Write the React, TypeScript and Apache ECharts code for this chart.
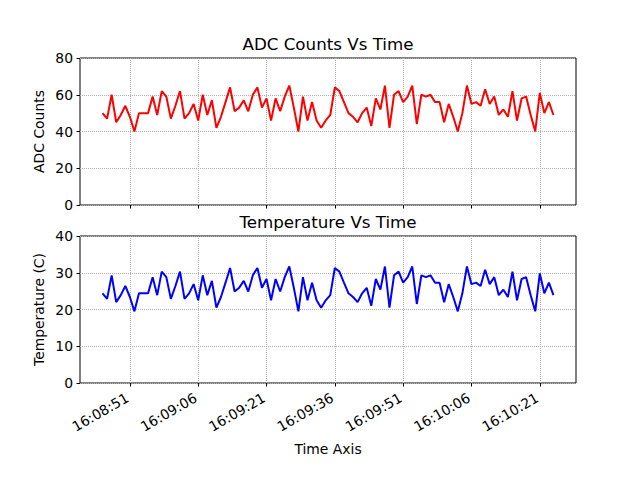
import React, { useEffect, useRef } from "react";
import * as echarts from "echarts";

const startTime = "16:08:45";
const samplePeriodSec = 1;

const adcCounts = [
  50, 47, 60, 45, 49, 54, 48, 40, 50, 50,
  50, 59, 49, 62, 59, 47, 54, 62, 47, 50,
  55, 46, 60, 49, 57, 42, 48, 56, 64, 51,
  53, 57, 51, 60, 64, 53, 58, 46, 58, 51,
  59, 65, 53, 40, 59, 46, 56, 46, 42, 46,
  49, 64, 62, 56, 50, 48, 45, 50, 53, 43,
  58, 52, 65, 42, 60, 62, 56, 59, 65, 44,
  60, 59, 60, 56, 56, 45, 55, 48, 40, 50,
  65, 55, 56, 54, 63, 55, 59, 49, 52, 48,
  62, 46, 58, 59, 49, 40, 61, 50, 56, 49,
];

const temperatureC = [
  24.4, 22.9, 29.3, 22.0, 23.9, 26.4, 23.4, 19.5, 24.4, 24.4,
  24.4, 28.8, 23.9, 30.3, 28.8, 22.9, 26.4, 30.3, 22.9, 24.4,
  26.9, 22.5, 29.3, 23.9, 27.8, 20.5, 23.4, 27.3, 31.3, 24.9,
  25.9, 27.8, 24.9, 29.3, 31.3, 25.9, 28.3, 22.5, 28.3, 24.9,
  28.8, 31.7, 25.9, 19.5, 28.8, 22.5, 27.3, 22.5, 20.5, 22.5,
  23.9, 31.3, 30.3, 27.3, 24.4, 23.4, 22.0, 24.4, 25.9, 21.0,
  28.3, 25.4, 31.7, 20.5, 29.3, 30.3, 27.3, 28.8, 31.7, 21.5,
  29.3, 28.8, 29.3, 27.3, 27.3, 22.0, 26.9, 23.4, 19.5, 24.4,
  31.7, 26.9, 27.3, 26.4, 30.8, 26.9, 28.8, 23.9, 25.4, 23.4,
  30.3, 22.5, 28.3, 28.8, 23.9, 19.5, 29.8, 24.4, 27.3, 23.9,
];

const xTickLabels = ["16:08:51", "16:09:06", "16:09:21", "16:09:36", "16:09:51", "16:10:06", "16:10:21"];
const adcAxis = { min: 0, max: 80, step: 20 };
const tempAxis = { min: 0, max: 40, step: 10 };

function toSec(s: string) {
  const [h, m, x] = s.split(":").map(Number);
  return h * 3600 + m * 60 + x;
}
function pad(n: number) {
  return (n < 10 ? "0" : "") + n;
}
function fmt(sec: number) {
  const s = Math.round(sec);
  return pad(Math.floor(s / 3600)) + ":" + pad(Math.floor((s % 3600) / 60)) + ":" + pad(s % 60);
}

const FONT = "DejaVu Sans";

export default function App() {
  const ref = useRef<HTMLDivElement>(null);
  useEffect(() => {
    document.body.style.margin = "0";
    if (!ref.current) return;
    const chart = echarts.init(ref.current, undefined, { renderer: "svg" });
    const t0 = toSec(startTime);
    const times = adcCounts.map((_, i) => t0 + i * samplePeriodSec);
    const tEnd = times[times.length - 1];
    const span = tEnd - t0;
    const xMin = t0 - 0.05 * span;
    const xMax = tEnd + 0.05 * span;
    const tickVals = xTickLabels.map(toSec);

    const L = 80, W = 496, H = 147;
    const gridStyle = { show: true, borderColor: "#000", borderWidth: 1, backgroundColor: "#fff" };
    const split = { show: true, lineStyle: { type: "dotted" as const, color: "#b0b0b0", width: 1 } };
    const tick = { show: true, length: 3.5, inside: false, lineStyle: { color: "#000", width: 1 } };
    const lbl = { color: "#000", fontFamily: FONT, fontSize: 13.9 };

    const xAxisBase = (gi: number, showLabels: boolean) => ({
      type: "value" as const,
      gridIndex: gi,
      min: xMin,
      max: xMax,
      axisLine: { show: false },
      axisTick: { ...tick, customValues: tickVals },
      splitLine: split,
      axisLabel: {
        show: showLabels,
        customValues: tickVals,
        formatter: (v: number) => fmt(v),
        rotate: 30,
        margin: 12,
        padding: [0, 3, 0, 0],
        ...lbl,
      },
    });
    const yAxisBase = (gi: number, a: { min: number; max: number; step: number }) => ({
      type: "value" as const,
      gridIndex: gi,
      min: a.min,
      max: a.max,
      interval: a.step,
      axisLine: { show: false },
      axisTick: tick,
      splitLine: split,
      axisLabel: { margin: 7, ...lbl },
    });

    chart.setOption({
      animation: false,
      backgroundColor: "#fff",
      grid: [
        { left: L, top: 58, width: W, height: H, ...gridStyle },
        { left: L, top: 236, width: W, height: H, ...gridStyle },
      ],
      xAxis: [xAxisBase(0, false), xAxisBase(1, true)],
      yAxis: [yAxisBase(0, adcAxis), yAxisBase(1, tempAxis)],
      series: [
        {
          type: "line",
          xAxisIndex: 0,
          yAxisIndex: 0,
          data: adcCounts.map((v, i) => [times[i], v]),
          showSymbol: false,
          symbol: "none",
          lineStyle: { color: "#ff0000", width: 2 },
          itemStyle: { color: "#ff0000" },
          z: 5,
        },
        {
          type: "line",
          xAxisIndex: 1,
          yAxisIndex: 1,
          data: temperatureC.map((v, i) => [times[i], v]),
          showSymbol: false,
          symbol: "none",
          lineStyle: { color: "#0000ff", width: 2 },
          itemStyle: { color: "#0000ff" },
          z: 5,
        },
      ],
      graphic: [
        {
          type: "text",
          x: L + W / 2,
          y: 44,
          style: { text: "ADC Counts Vs Time", fontFamily: FONT, fontSize: 16.7, fill: "#000", align: "center", verticalAlign: "middle" },
        },
        {
          type: "text",
          x: L + W / 2,
          y: 222,
          style: { text: "Temperature Vs Time", fontFamily: FONT, fontSize: 16.7, fill: "#000", align: "center", verticalAlign: "middle" },
        },
        {
          type: "text",
          x: 39,
          y: 58 + H / 2,
          rotation: Math.PI / 2,
          style: { text: "ADC Counts", fontFamily: FONT, fontSize: 13.9, fill: "#000", align: "center", verticalAlign: "middle" },
        },
        {
          type: "text",
          x: 39,
          y: 236 + H / 2,
          rotation: Math.PI / 2,
          style: { text: "Temperature (C)", fontFamily: FONT, fontSize: 13.9, fill: "#000", align: "center", verticalAlign: "middle" },
        },
        {
          type: "text",
          x: L + W / 2,
          y: 449,
          style: { text: "Time Axis", fontFamily: FONT, fontSize: 13.9, fill: "#000", align: "center", verticalAlign: "middle" },
        },
      ],
    });
    return () => chart.dispose();
  }, []);
  return <div ref={ref} style={{ width: 640, height: 480 }} />;
}
